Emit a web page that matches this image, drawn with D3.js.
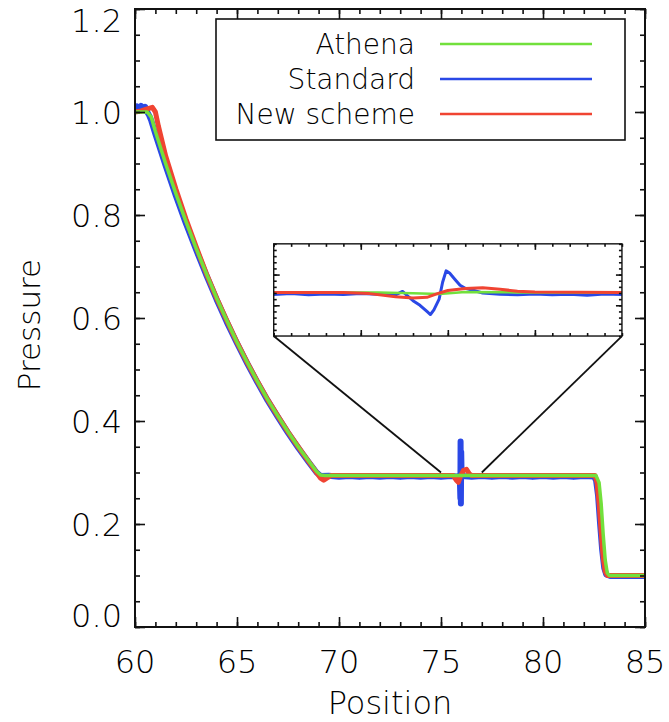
<!DOCTYPE html>
<html>
<head>
<meta charset="utf-8">
<script src="https://cdn.jsdelivr.net/npm/d3@7"></script>
<style>
    body { margin: 0; background: #fff; }
    text { font-family: "DejaVu Sans", sans-serif; font-weight: 200; fill: #000; }
</style>
</head>
<body>
<svg width="669" height="722"></svg>
<script>
// values
const xMajor = [60, 65, 70, 75, 80, 85];
const yMajor = [0.0, 0.2, 0.4, 0.6, 0.8, 1.0, 1.2];
const yLabels = ['0.0', '0.2', '0.4', '0.6', '0.8', '1.0', '1.2'];

const athena = [[60, 1.0], [60.6, 1.0], [60.8, 0.99], [61, 0.962], [61.5, 0.900], [62, 0.842], [62.5, 0.787],
    [63, 0.735], [63.5, 0.686], [64, 0.639], [64.5, 0.595], [65, 0.553], [65.5, 0.514], [66, 0.477],
    [66.5, 0.442], [67, 0.410], [67.5, 0.379], [68, 0.350], [68.5, 0.323], [68.9, 0.302], [69.1, 0.295],
    [69.3, 0.294], [82.6, 0.294], [82.75, 0.28], [82.85, 0.24], [82.95, 0.18], [83.05, 0.13],
    [83.15, 0.105], [83.25, 0.1], [85, 0.1]];

const standard = [[60, 1.006], [60.1, 1.011], [60.2, 1.004], [60.3, 1.012], [60.4, 1.005], [60.5, 1.01],
    [60.6, 1.0], [60.7, 0.993], [60.8, 0.983], [61, 0.957], [61.5, 0.896], [62, 0.838], [62.5, 0.783],
    [63, 0.732], [63.5, 0.683], [64, 0.636], [64.5, 0.592], [65, 0.551], [65.5, 0.512], [66, 0.475],
    [66.5, 0.440], [67, 0.408], [67.5, 0.377], [68, 0.348], [68.5, 0.321], [68.9, 0.300], [69.1, 0.293],
    [69.5, 0.2935], [70, 0.2918], [70.5, 0.2932], [71, 0.2915], [71.5, 0.293], [72, 0.2918], [72.5, 0.2934],
    [73, 0.2915], [73.5, 0.293], [74, 0.2918], [74.5, 0.2932], [75, 0.2915], [75.5, 0.293], [75.92, 0.292],
    [75.95, 0.25], [75.96, 0.36], [75.975, 0.24], [75.99, 0.34], [76.01, 0.293], [76.5, 0.2918], [77, 0.2934],
    [77.5, 0.2915], [78, 0.293], [78.5, 0.2918], [79, 0.2934], [79.5, 0.2915], [80, 0.293], [80.5, 0.2918],
    [81, 0.2932], [81.5, 0.2915], [82, 0.293], [82.5, 0.2922], [82.6, 0.285], [82.7, 0.255], [82.8, 0.2],
    [82.9, 0.15], [83.0, 0.115], [83.1, 0.102], [83.3, 0.099], [85, 0.099]];

const newScheme = [[60, 1.0], [60.3, 1.002], [60.6, 1.006], [60.85, 1.009], [61.0, 1.0], [61.15, 0.972],
    [61.5, 0.915], [62, 0.851], [62.5, 0.792], [63, 0.738], [63.5, 0.686], [64, 0.639], [64.5, 0.595],
    [65, 0.553], [65.5, 0.514], [66, 0.477], [66.5, 0.442], [67, 0.410], [67.5, 0.379], [68, 0.350],
    [68.5, 0.322], [68.9, 0.300], [69.1, 0.289], [69.25, 0.285], [69.4, 0.289], [69.6, 0.294], [75.6, 0.294],
    [75.75, 0.285], [75.85, 0.281], [75.95, 0.292], [76.1, 0.304], [76.25, 0.306], [76.4, 0.297],
    [76.5, 0.294], [82.55, 0.294], [82.65, 0.28], [82.75, 0.24], [82.85, 0.185], [82.95, 0.135],
    [83.05, 0.108], [83.15, 0.1], [85, 0.1]];

// inset (zoom on 75..77)
const insetXMajor = [75.5, 76, 76.5];
const insetYMajor = [0.29, 0.30];

const insetAthena = [[75, 0.2942], [75.6, 0.2942], [75.8, 0.2939], [75.95, 0.2937], [76.1, 0.2943],
    [76.4, 0.2942], [77, 0.2942]];

const insetStandard = [[75.0, 0.2935], [75.1, 0.2938], [75.2, 0.2934], [75.3, 0.2937], [75.4, 0.2935],
    [75.5, 0.2938], [75.6, 0.2936], [75.7, 0.2934], [75.74, 0.2945], [75.77, 0.2930], [75.8, 0.2915],
    [75.84, 0.2900], [75.88, 0.2880], [75.9, 0.2870], [75.92, 0.2885], [75.95, 0.2920], [75.97, 0.2975],
    [75.99, 0.3012], [76.01, 0.3005], [76.04, 0.2985], [76.07, 0.2965], [76.1, 0.2955], [76.15, 0.2948],
    [76.2, 0.2940], [76.3, 0.2936], [76.4, 0.2934], [76.5, 0.2937], [76.6, 0.2934], [76.7, 0.2936],
    [76.8, 0.2933], [76.9, 0.2937], [77, 0.2935]];

const insetNew = [[75, 0.2942], [75.4, 0.2942], [75.55, 0.2938], [75.7, 0.2928], [75.8, 0.2924],
    [75.88, 0.2926], [75.94, 0.2938], [76.0, 0.2948], [76.1, 0.2955], [76.2, 0.2957], [76.3, 0.2952],
    [76.4, 0.2946], [76.5, 0.2943], [77, 0.2942]];

const names = ['Athena', 'Standard', 'New scheme'];
const colors = {'Athena': '#72e03c', 'Standard': '#2a48e6', 'New scheme': '#f04432'};

const svg = d3.select('svg');

const x = d3.scaleLinear().domain([60, 85]).range([135, 645]);
const y = d3.scaleLinear().domain([0, 1.2]).range([627, 9]);

function ticks(g, scale, values, orient, len) {
    const axis = orient === 'bottom' ? d3.axisBottom(scale) : orient === 'top' ? d3.axisTop(scale)
        : orient === 'left' ? d3.axisLeft(scale) : d3.axisRight(scale);
    const a = g.append('g').call(axis.tickValues(values).tickSize(-len).tickSizeOuter(0).tickFormat(''));
    a.select('.domain').remove();
    a.selectAll('line').attr('stroke', '#111').attr('stroke-width', 1.6);
    return a;
}

function frame(g, sx, sy, major, minor, majorY, minorY, lenMaj, lenMin) {
    const [x0, x1] = sx.range(), [y0, y1] = sy.range();
    const b = g.append('g').attr('transform', 'translate(0,' + y0 + ')');
    const t = g.append('g').attr('transform', 'translate(0,' + y1 + ')');
    const l = g.append('g').attr('transform', 'translate(' + x0 + ',0)');
    const r = g.append('g').attr('transform', 'translate(' + x1 + ',0)');
    ticks(b, sx, minor, 'bottom', lenMin); ticks(b, sx, major, 'bottom', lenMaj);
    ticks(t, sx, minor, 'top', lenMin); ticks(t, sx, major, 'top', lenMaj);
    ticks(l, sy, minorY, 'left', lenMin); ticks(l, sy, majorY, 'left', lenMaj);
    ticks(r, sy, minorY, 'right', lenMin); ticks(r, sy, majorY, 'right', lenMaj);
    g.append('rect')
        .attr('x', x0).attr('y', y1)
        .attr('width', x1 - x0).attr('height', y0 - y1)
        .attr('fill', 'none').attr('stroke', '#111').attr('stroke-width', 2);
}

// curves
const line = d3.line().x(function (d) { return x(d[0]); }).y(function (d) { return y(d[1]); });
const widths = {'Athena': 3.5, 'Standard': 6, 'New scheme': 5};
const series = {'Athena': athena, 'Standard': standard, 'New scheme': newScheme};

svg.append('defs').append('clipPath').attr('id', 'clipMain')
    .append('rect').attr('x', 135).attr('y', 9).attr('width', 510).attr('height', 618);

const curves = svg.append('g').attr('clip-path', 'url(#clipMain)');
['Standard', 'New scheme', 'Athena'].forEach(function (k) {
    curves.append('path')
        .attr('d', line(series[k]))
        .attr('fill', 'none')
        .attr('stroke', colors[k])
        .attr('stroke-width', widths[k])
        .attr('stroke-linejoin', 'round');
});

frame(svg.append('g'), x, y, xMajor, d3.range(60, 85.001, 1), yMajor, d3.range(0, 1.2001, 0.05), 10, 5);

// tick labels
svg.append('g').selectAll('text').data(xMajor).enter().append('text')
    .attr('x', function (d) { return x(d); })
    .attr('y', 673)
    .attr('text-anchor', 'middle')
    .style('font-size', '32px')
    .text(function (d) { return d; });

svg.append('g').selectAll('text').data(yMajor).enter().append('text')
    .attr('x', 122)
    .attr('y', function (d) { return Math.min(Math.max(y(d), 20), 615); })
    .attr('dy', '0.36em')
    .attr('text-anchor', 'end')
    .style('font-size', '32px')
    .text(function (d, i) { return yLabels[i]; });

svg.append('text')
    .attr('x', 390).attr('y', 714)
    .attr('text-anchor', 'middle')
    .style('font-size', '32px')
    .text('Position');

svg.append('text')
    .attr('transform', 'translate(40,' + 325 + ') rotate(-90)')
    .attr('text-anchor', 'middle')
    .style('font-size', '31px')
    .text('Pressure');

// legend
const legend = svg.append('g');
legend.append('rect')
    .attr('x', 216).attr('y', 19).attr('width', 409).attr('height', 121)
    .attr('fill', '#fff').attr('stroke', '#111').attr('stroke-width', 1.6);
names.forEach(function (k, i) {
    const ly = 44 + i * 35;
    legend.append('text')
        .attr('x', 415).attr('y', ly).attr('dy', '0.36em')
        .attr('text-anchor', 'end')
        .style('font-size', '28px')
        .text(k);
    legend.append('line')
        .attr('x1', 440).attr('x2', 592).attr('y1', ly).attr('y2', ly)
        .attr('stroke', colors[k]).attr('stroke-width', 2.5);
});

// inset
const ix = d3.scaleLinear().domain([75, 77]).range([x(66.8), x(83.87)]);
const iy = d3.scaleLinear().domain([0.28, 0.31]).range([y(0.565), y(0.744)]);

svg.append('line')
    .attr('x1', ix.range()[0]).attr('y1', iy.range()[0])
    .attr('x2', x(75)).attr('y2', y(0.3))
    .attr('stroke', '#111').attr('stroke-width', 1.8);
svg.append('line')
    .attr('x1', ix.range()[1]).attr('y1', iy.range()[0])
    .attr('x2', x(77)).attr('y2', y(0.3))
    .attr('stroke', '#111').attr('stroke-width', 1.8);

const inset = svg.append('g');
inset.append('rect')
    .attr('x', ix.range()[0]).attr('y', iy.range()[1])
    .attr('width', ix.range()[1] - ix.range()[0]).attr('height', iy.range()[0] - iy.range()[1])
    .attr('fill', '#fff');

svg.select('defs').append('clipPath').attr('id', 'clipInset')
    .append('rect')
    .attr('x', ix.range()[0]).attr('y', iy.range()[1])
    .attr('width', ix.range()[1] - ix.range()[0]).attr('height', iy.range()[0] - iy.range()[1]);

const iline = d3.line().x(function (d) { return ix(d[0]); }).y(function (d) { return iy(d[1]); });
const insetSeries = {'Athena': insetAthena, 'Standard': insetStandard, 'New scheme': insetNew};
const insetWidths = {'Athena': 2.5, 'Standard': 3, 'New scheme': 3};
const icurves = inset.append('g').attr('clip-path', 'url(#clipInset)');
['Standard', 'Athena', 'New scheme'].forEach(function (k) {
    icurves.append('path')
        .attr('d', iline(insetSeries[k]))
        .attr('fill', 'none')
        .attr('stroke', colors[k])
        .attr('stroke-width', insetWidths[k])
        .attr('stroke-linejoin', 'round');
});

frame(inset.append('g'), ix, iy, insetXMajor, d3.range(75, 77.001, 0.1),
    insetYMajor, d3.range(0.28, 0.3101, 0.002), 6, 3);
inset.selectAll('rect').filter(function () { return d3.select(this).attr('fill') === 'none'; })
    .attr('stroke-width', 1.4);
</script>
</body>
</html>
